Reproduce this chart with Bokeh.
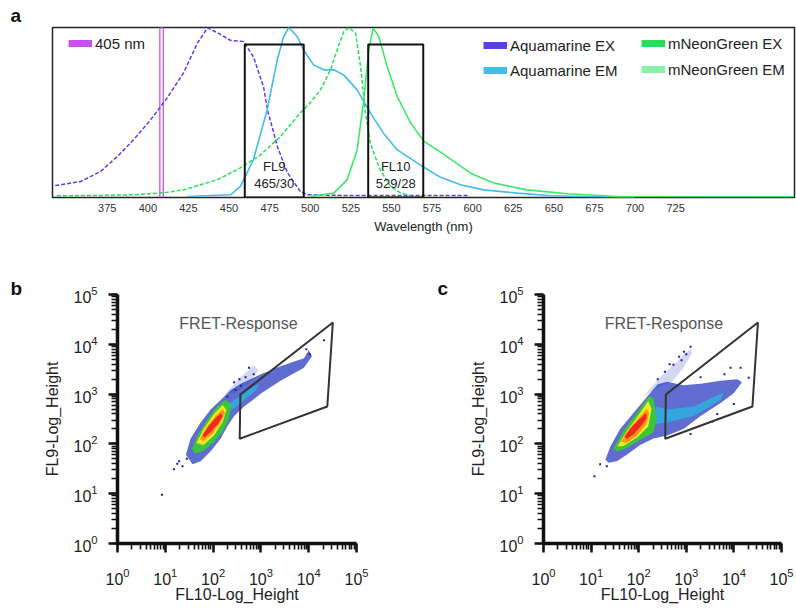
import numpy as np
from bokeh.plotting import figure
from bokeh.models import Range1d, FixedTicker, Legend, LegendItem, LogTicker
from bokeh.layouts import column, row
from bokeh.embed import file_html
from bokeh.resources import INLINE
from bokeh.core.properties import value

FONT = "Liberation Sans"
NAN = float("nan")

# ---------------- panel a : spectra ----------------
wl_ticks = [375, 400, 425, 450, 475, 500, 525, 550, 575, 600, 625, 650, 675, 700, 725]

aqua_ex_nm = [343, 358.6, 370.9, 381.2, 391.2, 401.7, 411.9, 422, 430.6, 436.8, 442.9, 450.9,
              458.9, 465.1, 471.3, 473.7, 479.9, 486, 494, 498.4, 520, 560, 597]
aqua_ex_val = [0.07, 0.094, 0.153, 0.241, 0.339, 0.457, 0.586, 0.733, 0.91, 0.998, 0.969, 0.924,
               0.918, 0.826, 0.649, 0.514, 0.296, 0.145, 0.034, 0.016, 0.012, 0.012, 0.012]

aqua_em_nm = [424, 451, 457, 465, 473.5, 479.7, 483.7, 486.8, 492, 495.8, 502, 508.4, 514.5,
              520.7, 528.9, 537, 545, 553.6, 568, 580, 592.5, 606.7, 627.5, 648, 700]
aqua_em_val = [0.006, 0.016, 0.065, 0.222, 0.516, 0.81, 0.947, 1.0, 0.947, 0.869, 0.78, 0.751, 0.751,
               0.72, 0.633, 0.498, 0.38, 0.28, 0.19, 0.12, 0.075, 0.045, 0.026, 0.01, 0.0]

mng_ex_nm = [344, 370, 391, 410, 422, 442.7, 457, 469.4, 481.7, 494, 500, 506.3, 512.5, 516.6,
             520.7, 523.8, 527.9, 531, 534, 537, 543, 549.5, 555.6, 562]
mng_ex_val = [0.01, 0.012, 0.016, 0.028, 0.045, 0.104, 0.174, 0.251, 0.359, 0.498, 0.557, 0.633, 0.751,
              0.869, 0.976, 1.0, 0.967, 0.77, 0.498, 0.32, 0.163, 0.065, 0.027, 0.01]

mng_em_nm = [500, 514.5, 522.7, 528.9, 533, 536, 538.8, 542.2, 547.4, 553.6, 561.8, 570, 578.2,
             588.4, 598.7, 613, 633.6, 658.3, 689, 797]
mng_em_val = [0.006, 0.026, 0.104, 0.28, 0.575, 0.869, 0.996, 0.947, 0.77, 0.594, 0.439, 0.33, 0.28,
              0.212, 0.143, 0.085, 0.045, 0.022, 0.006, 0.004]

laser_nm = [407.4, 407.4, 409.5, 409.5]
laser_val = [0, 1, 1, 0]

filter_left = [459.7, 535.7]
filter_right = [496.0, 569.6]
filter_top = [0.9, 0.9]
filter_names = ["FL9", "FL10"]
filter_bands = ["465/30", "529/28"]

# ---------------- panels b, c : flow cytometry (log10 units) ----------------
gate_fl10 = [372, 32000, 24500, 360]
gate_fl9 = [980, 27400, 565, 127]

# density contour levels (log10 FL10, log10 FL9), outer -> inner
b_levels = {
    "sparse": ([2.25, 2.55, 2.85, 2.95, 2.75, 2.45],
               [3.00, 3.32, 3.58, 3.48, 3.22, 3.02]),
    "blue": ([1.43, 1.53, 1.74, 1.95, 2.16, 2.37, 2.58, 3.00, 3.41, 3.90, 4.00, 4.07, 3.90, 3.41, 3.00, 2.65, 2.44, 2.30, 2.16, 1.95, 1.74, 1.57],
             [1.78, 2.11, 2.43, 2.69, 2.88, 3.08, 3.21, 3.40, 3.56, 3.72, 3.88, 3.76, 3.53, 3.27, 3.01, 2.75, 2.56, 2.36, 2.11, 1.85, 1.65, 1.59]),
    "cyan": ([2.30, 2.55, 2.80, 2.95, 2.90, 2.70, 2.45, 2.30],
             [2.78, 2.95, 3.12, 3.20, 3.08, 2.92, 2.72, 2.62]),
    "green": ([1.56, 1.68, 1.88, 2.09, 2.25, 2.38, 2.34, 2.20, 2.02, 1.80, 1.62],
              [1.90, 2.18, 2.49, 2.76, 2.88, 2.80, 2.52, 2.25, 2.04, 1.86, 1.80]),
    "yellow": ([1.65, 1.80, 2.02, 2.20, 2.28, 2.20, 2.02, 1.80],
               [2.02, 2.30, 2.60, 2.78, 2.68, 2.44, 2.17, 1.98]),
    "orange": ([1.72, 1.86, 2.05, 2.20, 2.25, 2.15, 1.98, 1.80],
               [2.10, 2.33, 2.56, 2.70, 2.62, 2.42, 2.20, 2.06]),
    "red": ([1.78, 1.90, 2.05, 2.17, 2.20, 2.10, 1.95, 1.82],
            [2.17, 2.35, 2.52, 2.62, 2.55, 2.40, 2.24, 2.13]),
}
b_out_lx = [0.93, 1.18, 1.36, 1.29, 2.44, 2.75, 2.58, 2.47, 4.32, 2.85, 2.68, 1.45, 1.25, 2.30, 2.55, 3.95, 4.02]
b_out_ly = [0.98, 1.49, 1.55, 1.65, 3.24, 3.53, 3.17, 3.08, 4.08, 3.40, 3.34, 1.70, 1.60, 2.95, 3.30, 3.90, 3.80]

c_levels = {
    "sparse": ([2.10, 2.45, 2.81, 3.09, 3.12, 2.94, 2.70, 2.45],
               [2.95, 3.34, 3.66, 3.92, 3.82, 3.53, 3.25, 3.15]),
    "blue": ([1.30, 1.40, 1.61, 1.89, 2.18, 2.40, 2.60, 2.94, 3.30, 3.72, 4.07, 4.17, 3.99, 3.72, 3.30, 2.94, 2.60, 2.31, 2.03, 1.75, 1.54, 1.37],
             [1.68, 1.94, 2.30, 2.62, 2.95, 3.20, 3.25, 3.18, 3.21, 3.27, 3.30, 3.24, 3.01, 2.82, 2.56, 2.30, 2.17, 2.11, 1.98, 1.78, 1.65, 1.62]),
    "cyan": ([2.35, 2.60, 3.16, 3.72, 3.79, 3.72, 3.16, 2.60, 2.35],
             [2.75, 2.69, 2.75, 3.01, 3.02, 2.88, 2.56, 2.43, 2.40]),
    "green": ([1.47, 1.68, 1.96, 2.21, 2.31, 2.38, 2.31, 2.03, 1.75, 1.54],
              [1.91, 2.27, 2.62, 2.95, 2.92, 2.49, 2.23, 2.08, 1.92, 1.84]),
    "yellow": ([1.55, 1.75, 2.00, 2.20, 2.27, 2.20, 1.98, 1.68],
               [1.95, 2.26, 2.58, 2.86, 2.70, 2.35, 2.14, 1.96]),
    "orange": ([1.63, 1.80, 2.00, 2.17, 2.22, 2.16, 1.98, 1.75],
               [2.05, 2.30, 2.52, 2.70, 2.62, 2.40, 2.18, 2.02]),
    "red": ([1.70, 1.85, 2.02, 2.15, 2.17, 2.05, 1.90, 1.75],
            [2.15, 2.34, 2.50, 2.62, 2.52, 2.36, 2.20, 2.10]),
}
c_out_lx = [1.07, 1.19, 1.33, 3.09, 2.95, 3.93, 4.14, 4.31, 3.09, 3.30, 2.73, 3.55, 3.80, 2.55, 2.85,
            2.65, 2.90, 3.00, 2.40, 3.65, 4.00]
c_out_ly = [1.35, 1.59, 1.55, 3.95, 3.85, 3.53, 3.53, 3.33, 2.20, 3.34, 3.59, 2.45, 3.40, 3.45, 3.75,
            3.60, 3.68, 3.80, 3.30, 2.60, 2.80]

level_colors = {"sparse": "#3848c4", "blue": "#2b3bbf", "cyan": "#2ab4e0", "green": "#3cc43c",
                "yellow": "#f2e81e", "orange": "#ff961f", "red": "#ee2a1e"}
level_alpha = {"sparse": 0.22, "blue": 0.75, "cyan": 0.8, "green": 1, "yellow": 1, "orange": 1, "red": 1}

C_LASER = "#c850f0"
C_AQ_EX = "#5a3ff0"
C_AQ_EM = "#42bde8"
C_NG_EX = "#27e05a"
C_NG_EM = "#3ee86a"
C_NG_EM_LEG = "#8af0aa"


def letter_title(p, letter, offset, standoff):
    t = p.title
    t.text = letter
    t.align = "left"
    t.offset = offset
    t.standoff = standoff
    t.text_font = FONT
    t.text_font_size = "19px"
    t.text_font_style = "bold"
    t.text_color = "#111111"


# ---------------- panel a ----------------
pa = figure(width=796, height=242, x_range=Range1d(341.3, 798.2), y_range=Range1d(0, 1),
            output_backend="svg", toolbar_location=None, y_axis_location=None,
            min_border_left=52, min_border_right=2, min_border_top=27, min_border_bottom=45)
letter_title(pa, "a", -42, 4)
pa.grid.visible = False
pa.outline_line_color = "#222222"
pa.outline_line_width = 1.5
ax = pa.xaxis[0]
ax.ticker = FixedTicker(ticks=wl_ticks)
ax.axis_line_color = None
ax.major_tick_line_color = None
ax.minor_tick_line_color = None
ax.major_tick_out = 0
ax.major_tick_in = 0
ax.major_label_text_font = FONT
ax.major_label_text_font_size = "11px"
ax.major_label_text_color = "#333333"
ax.major_label_standoff = 6
ax.axis_label = "Wavelength (nm)"
ax.axis_label_text_font = FONT
ax.axis_label_text_font_size = "13px"
ax.axis_label_text_font_style = "normal"
ax.axis_label_text_color = "#222222"
ax.axis_label_standoff = 4

pa.line(laser_nm, laser_val, line_color=C_LASER, line_width=1.3)
pa.line(aqua_ex_nm, aqua_ex_val, line_color=C_AQ_EX, line_width=1.5, line_dash="4 2")
pa.line(mng_ex_nm, mng_ex_val, line_color=C_NG_EX, line_width=1.5, line_dash="4 2")
pa.line(aqua_em_nm, aqua_em_val, line_color=C_AQ_EM, line_width=1.6)
pa.line(mng_em_nm, mng_em_val, line_color=C_NG_EM, line_width=1.6)
pa.quad(left=filter_left, right=filter_right, bottom=0, top=filter_top,
        fill_color=None, line_color="#111111", line_width=2)
fc = [(l + r) / 2 for l, r in zip(filter_left, filter_right)]
pa.text(x=fc, y=[0.185] * 2, text=filter_names, text_align="center", text_baseline="middle",
        text_font=value(FONT), text_font_size="13px", text_color="#222222")
pa.text(x=fc, y=[0.085] * 2, text=filter_bands, text_align="center", text_baseline="middle",
        text_font=value(FONT), text_font_size="13px", text_color="#222222")

# legend swatches (renderers without drawable data)
lg_laser = pa.line([NAN], [NAN], line_color=C_LASER, line_width=7)
lg_aex = pa.line([NAN], [NAN], line_color=C_AQ_EX, line_width=7)
lg_aem = pa.line([NAN], [NAN], line_color=C_AQ_EM, line_width=7)
lg_nex = pa.line([NAN], [NAN], line_color=C_NG_EX, line_width=7)
lg_nem = pa.line([NAN], [NAN], line_color=C_NG_EM_LEG, line_width=7)


def mk_legend(items, loc, spacing):
    lg = Legend(items=items, location=loc, padding=0, margin=0, spacing=spacing,
                border_line_color=None, background_fill_alpha=0, glyph_width=24, glyph_height=18,
                label_height=18, label_standoff=3, label_text_font=FONT, label_text_font_size="15px",
                label_text_color="#222222")
    pa.add_layout(lg)


mk_legend([LegendItem(label="405 nm", renderers=[lg_laser])], (16, 145), 7)
mk_legend([LegendItem(label="Aquamarine EX", renderers=[lg_aex]),
           LegendItem(label="Aquamarine EM", renderers=[lg_aem])], (431, 118), 7)
mk_legend([LegendItem(label="mNeonGreen EX", renderers=[lg_nex]),
           LegendItem(label="mNeonGreen EM", renderers=[lg_nem])], (589, 118.7), 8)


# ---------------- panels b, c ----------------
def flow_panel(levels, out_lx, out_ly, letter, width, left, right, letter_offset):
    p = figure(width=width, height=363, x_axis_type="log", y_axis_type="log",
               x_range=Range1d(1, 1e5), y_range=Range1d(1, 1e5),
               output_backend="svg", toolbar_location=None,
               min_border_left=left, min_border_right=right, min_border_top=52, min_border_bottom=54)
    letter_title(p, letter, letter_offset, -8)
    p.grid.visible = False
    p.outline_line_color = None
    for a in (p.xaxis[0], p.yaxis[0]):
        a.ticker = LogTicker(num_minor_ticks=10)
        a.axis_line_width = 3.5
        a.axis_line_color = "#111111"
        a.major_tick_line_width = 2.5
        a.major_tick_line_color = "#111111"
        a.major_tick_out = 9
        a.major_tick_in = 0
        a.minor_tick_line_width = 1.6
        a.minor_tick_line_color = "#111111"
        a.minor_tick_out = 6
        a.minor_tick_in = 0
        a.major_label_text_font = FONT
        a.major_label_text_font_size = "16px"
        a.major_label_text_color = "#222222"
        a.axis_label_text_font = FONT
        a.axis_label_text_font_size = "16px"
        a.axis_label_text_font_style = "normal"
        a.axis_label_text_color = "#222222"
    p.xaxis[0].major_label_standoff = 15
    p.xaxis[0].axis_label_standoff = -2
    p.yaxis[0].major_label_standoff = 11
    p.yaxis[0].axis_label_standoff = 9
    p.xaxis[0].axis_label = "FL10-Log_Height"
    p.yaxis[0].axis_label = "FL9-Log_Height"

    names = list(levels.keys())
    xs = [list(10 ** np.array(levels[n][0])) for n in names]
    ys = [list(10 ** np.array(levels[n][1])) for n in names]
    p.patches(xs=xs, ys=ys, fill_color=[level_colors[n] for n in names],
              fill_alpha=[level_alpha[n] for n in names], line_color=None)
    p.scatter(10 ** np.array(out_lx), 10 ** np.array(out_ly), marker="square", size=2,
              fill_color="#1a22a0", line_color=None)
    p.patch(gate_fl10, gate_fl9, fill_color=None, line_color="#333333", line_width=2)
    p.text(x=[10 ** 2.53], y=[10 ** 4.42], text=["FRET-Response"], text_align="center",
           text_baseline="middle", text_font=value(FONT), text_font_size="16px", text_color="#555555")
    return p


pb = flow_panel(b_levels, b_out_lx, b_out_ly, "b", 408, 117, 52, -107)
pc = flow_panel(c_levels, c_out_lx, c_out_ly, "c", 388, 135, 15, -106)

layout = column(pa, row(pb, pc))
open("out.html", "w").write(file_html(layout, INLINE))
